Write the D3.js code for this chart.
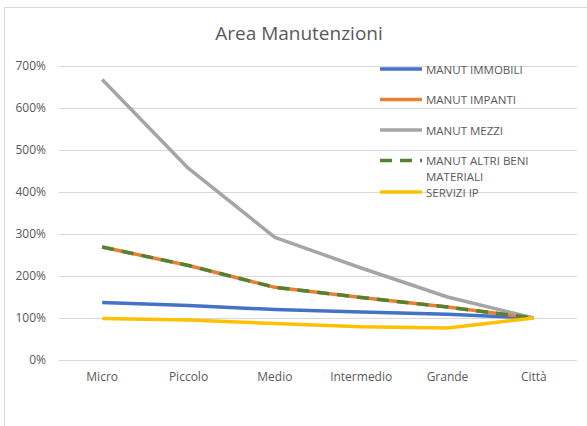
<!DOCTYPE html>
<html>
<head>
<meta charset="utf-8">
<script src="https://cdn.jsdelivr.net/npm/d3@7"></script>
<style>
  body { margin: 0; background: #fff; }
  text { font-family: "Open Sans", "Liberation Sans", sans-serif; fill: #595959; }
</style>
</head>
<body>
<div id="chart"></div>
<script>
// Categories and series (percent values)
var categories = ["Micro", "Piccolo", "Medio", "Intermedio", "Grande", "Città"];
var immobili = [137, 130, 120, 114, 109, 100];
var impianti = [269, 225, 173, 149, 126, 100];
var mezzi = [668, 456, 292, 219, 150, 100];
var altriBeni = [269, 225, 173, 149, 126, 100];
var serviziIP = [99, 95, 87, 79, 76, 100];
var yTicks = [0, 100, 200, 300, 400, 500, 600, 700];

var series = [
  { name: "MANUT IMMOBILI", values: immobili, color: "#4472C4" },
  { name: "MANUT IMPANTI", values: impianti, color: "#ED7D31" },
  { name: "MANUT MEZZI", values: mezzi, color: "#A5A5A5" },
  { name: "MANUT ALTRI BENI MATERIALI", values: altriBeni, color: "#548235", dash: "12,8" },
  { name: "SERVIZI IP", values: serviziIP, color: "#FFC000" }
];

var width = 587, height = 426;
var svg = d3.select("#chart").append("svg").attr("width", width).attr("height", height);

// chart area border
svg.append("rect")
  .attr("x", 4.5).attr("y", 7.5).attr("width", 600).attr("height", 430)
  .attr("fill", "#fff").attr("stroke", "#d9d9d9");

svg.append("text")
  .attr("x", 299).attr("y", 40)
  .attr("text-anchor", "middle")
  .attr("font-size", "19px")
  .text("Area Manutenzioni");

var x = d3.scaleBand().domain(categories).range([59, 577]);
var y = d3.scaleLinear().domain([0, 700]).range([360, 66]);

// gridlines
svg.append("g")
  .selectAll("line")
  .data(yTicks)
  .enter().append("line")
    .attr("x1", 59).attr("x2", 577)
    .attr("y1", function(d) { return Math.round(y(d)) + 0.5; })
    .attr("y2", function(d) { return Math.round(y(d)) + 0.5; })
    .attr("stroke", "#d9d9d9");

// y axis labels
var yAxis = svg.append("g")
  .attr("transform", "translate(59,0)")
  .call(d3.axisLeft(y).tickValues(yTicks).tickSize(0).tickPadding(13)
    .tickFormat(function(d) { return d + "%"; }));
yAxis.select(".domain").remove();
yAxis.selectAll("text").attr("font-size", "12px").attr("font-family", null).attr("fill", "#595959");

// x axis labels
var xAxis = svg.append("g")
  .attr("transform", "translate(0,360)")
  .call(d3.axisBottom(x).tickSize(0).tickPadding(12));
xAxis.select(".domain").remove();
xAxis.selectAll("text").attr("font-size", "12px").attr("font-family", null).attr("fill", "#595959");

var line = d3.line()
  .x(function(d, i) { return x(categories[i]) + x.bandwidth() / 2; })
  .y(function(d) { return y(d); });

series.forEach(function(s) {
  svg.append("path")
    .datum(s.values)
    .attr("d", line)
    .attr("fill", "none")
    .attr("stroke", s.color)
    .attr("stroke-width", 3.5)
    .attr("stroke-linejoin", "round")
    .attr("stroke-dasharray", s.dash || null);
});

// legend, drawn over the plot like in excel
var legendY = [69, 99.5, 130, 160.5, 192];
var legend = svg.append("g");
series.forEach(function(s, i) {
  var g = legend.append("g").attr("transform", "translate(380," + legendY[i] + ")");
  g.append("line")
    .attr("x1", 0).attr("x2", 42)
    .attr("stroke", s.color).attr("stroke-width", 3.5)
    .attr("stroke-dasharray", s.dash || null);
  if (s.name == "MANUT ALTRI BENI MATERIALI") {
    g.append("text").attr("x", 46).attr("y", 4).attr("font-size", "11.5px").text("MANUT ALTRI BENI");
    g.append("text").attr("x", 46).attr("y", 20).attr("font-size", "11.5px").text("MATERIALI");
  } else if (s.name == "SERVIZI IP") {
    g.append("text").attr("x", 46).attr("y", 4.5).attr("font-size", "11.5px").text(s.name);
  } else {
    g.append("text").attr("x", 46).attr("y", 4.5).attr("font-size", "11.5px").text(s.name);
  }
});
</script>
</body>
</html>
